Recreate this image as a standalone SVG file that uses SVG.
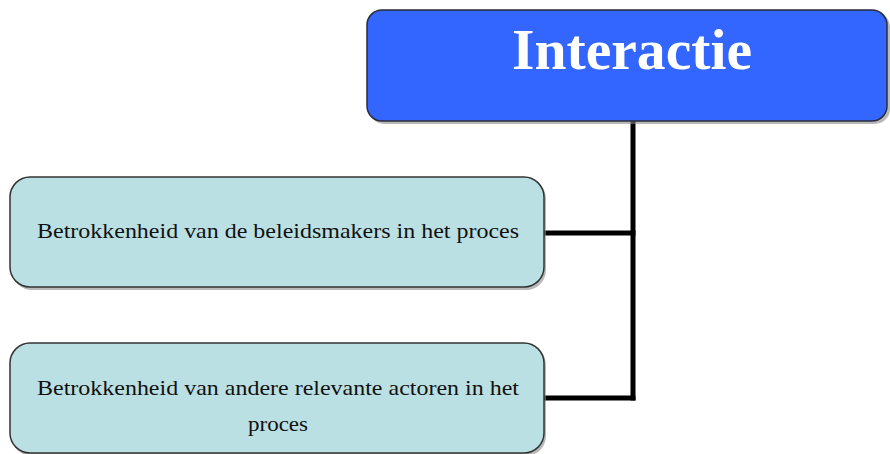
<svg xmlns="http://www.w3.org/2000/svg" width="890" height="454" viewBox="0 0 890 454">
  <style>
    .head { fill: #3366FF; stroke: #2b2b3a; stroke-width: 1.5; }
    .leaf { fill: #BBE0E3; stroke: #333333; stroke-width: 1.5; }
    .shadow { fill: #8a8a8a; opacity: 0.6; }
    .wire { fill: none; stroke: #000000; stroke-width: 5; stroke-linecap: square; }
    .title { font-family: "Liberation Serif", "Times New Roman", serif; font-weight: bold; font-size: 56px; fill: #FFFFFF; text-anchor: middle; }
    .label { font-family: "Liberation Serif", "Times New Roman", serif; font-size: 21px; fill: #111111; text-anchor: middle; }
  </style>
  <rect x="0" y="0" width="890" height="454" fill="#FFFFFF"/>

  <!-- connectors: trunk from the heading down, branches to each item -->
  <g id="connectors">
    <path class="wire" d="M633 122 V398"/>
    <path class="wire" d="M546 233 H633"/>
    <path class="wire" d="M546 398 H633"/>
  </g>

  <!-- heading node -->
  <g id="node-interactie">
    <rect class="shadow" x="369" y="12" width="521" height="112" rx="15"/>
    <rect class="head" x="367" y="10" width="520" height="111" rx="15"/>
    <text class="title" x="632" y="69" textLength="240" lengthAdjust="spacingAndGlyphs">Interactie</text>
  </g>

  <!-- item: policy makers -->
  <g id="node-beleidsmakers">
    <rect class="shadow" x="12" y="179" width="534" height="111" rx="20"/>
    <rect class="leaf" x="10" y="177" width="534" height="110" rx="20"/>
    <text class="label" x="278" y="238" textLength="482" lengthAdjust="spacingAndGlyphs">Betrokkenheid van de beleidsmakers in het proces</text>
  </g>

  <!-- item: other actors -->
  <g id="node-actoren">
    <rect class="shadow" x="12" y="345" width="534" height="111" rx="20"/>
    <rect class="leaf" x="10" y="343" width="534" height="110" rx="20"/>
    <text class="label" x="278" y="395" textLength="482" lengthAdjust="spacingAndGlyphs">Betrokkenheid van andere relevante actoren in het</text>
    <text class="label" x="278" y="431" textLength="60" lengthAdjust="spacingAndGlyphs">proces</text>
  </g>
</svg>
